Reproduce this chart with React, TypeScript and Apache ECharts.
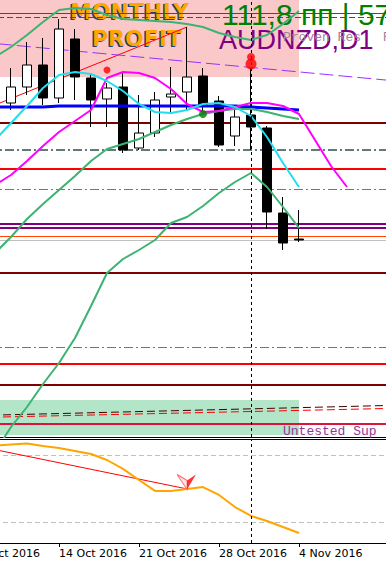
import React, { useEffect, useRef } from "react";
import * as echarts from "echarts";

// ---------- categories (trading days) ----------
const CATEGORIES = [
  "7 Oct 2016", "10 Oct 2016", "11 Oct 2016", "12 Oct 2016", "13 Oct 2016", "14 Oct 2016",
  "17 Oct 2016", "18 Oct 2016", "19 Oct 2016", "20 Oct 2016", "21 Oct 2016",
  "24 Oct 2016", "25 Oct 2016", "26 Oct 2016", "27 Oct 2016", "28 Oct 2016",
  "31 Oct 2016", "1 Nov 2016", "2 Nov 2016", "3 Nov 2016", "4 Nov 2016",
  "7 Nov 2016", "8 Nov 2016", "9 Nov 2016", "10 Nov 2016", "11 Nov 2016", "14 Nov 2016",
];
const LABELLED_DATES = ["7 Oct 2016", "14 Oct 2016", "21 Oct 2016", "28 Oct 2016", "4 Nov 2016"];

// ---------- OHLC (AUDNZD, D1) ----------
const OPEN = [null, 1.0650, 1.0697, 1.0713, 1.0735, 1.0702, 1.0761, 1.0722, 1.0701, 1.0713, 1.0652, 1.0667, 1.0703, 1.0708, 1.0724, 1.0699, 1.0664, 1.0685, 1.0672, 1.0587, 1.0561];
const CLOSE = [null, 1.0696, 1.0713, 1.0735, 1.0702, 1.0771, 1.0723, 1.0700, 1.0712, 1.0650, 1.0667, 1.0700, 1.0706, 1.0723, 1.0694, 1.0655, 1.0683, 1.0673, 1.0588, 1.0557, 1.0560];
const LOW = [null, 1.0648, 1.0690, 1.0705, 1.0695, 1.0697, 1.0700, 1.0673, 1.0673, 1.0647, 1.0650, 1.0663, 1.0688, 1.0690, 1.0688, 1.0653, 1.0654, 1.0650, 1.0571, 1.0550, 1.0558];
const HIGH = [null, 1.0702, 1.0732, 1.0758, 1.0762, 1.0781, 1.0771, 1.0726, 1.0717, 1.0728, 1.0705, 1.0708, 1.0733, 1.0773, 1.0732, 1.0704, 1.0693, 1.0732, 1.0674, 1.0603, 1.0590];

// ---------- indicator lines ----------
const UPPER_GREEN = [null, 1.0743, 1.0753, 1.0765, 1.0778, 1.0790, 1.0792, 1.0791, 1.0785, 1.0781, 1.0780, 1.0779, 1.0778, 1.0776, 1.0773, 1.0767, 1.0763, 1.0760, 1.0765, 1.0776, 1.0789];
const MID_GREEN = [null, 1.0547, 1.0563, 1.0581, 1.0596, 1.0610, 1.0624, 1.0639, 1.0651, 1.0656, 1.0661, 1.0668, 1.0675, 1.0681, 1.0686, 1.0689, 1.0691, 1.0691, 1.0688, 1.0684, 1.0681];
const LOWER_GREEN = [null, 1.0348, 1.0373, 1.0393, 1.0416, 1.0437, 1.0462, 1.0494, 1.0527, 1.0541, 1.0550, 1.0560, 1.0577, 1.0583, 1.0594, 1.0607, 1.0618, 1.0627, 1.0613, 1.0593, 1.0572];
const CYAN = [null, 1.0660, 1.0677, 1.0694, 1.0712, 1.0725, 1.0728, 1.0726, 1.0719, 1.0709, 1.0696, 1.0688, 1.0687, 1.0690, 1.0696, 1.0697, 1.0693, 1.0684, 1.0663, 1.0637, 1.0613];
const MAGENTA = [null, 1.0615, 1.0625, 1.0639, 1.0654, 1.0668, 1.0679, 1.0690, 1.0722, 1.0728, 1.0727, 1.0722, 1.0711, 1.0696, 1.0688, 1.0689, 1.0693, 1.0697, 1.0697, 1.0694, 1.0686, 1.0660, 1.0634, 1.0613];
const BLUE = [null, 1.0693, 1.0693, 1.0693, 1.0693, 1.0694, 1.0694, 1.0694, 1.0694, 1.0694, 1.0694, 1.0694, 1.0694, 1.0694, 1.0694, 1.0694, 1.0694, 1.0693, 1.0692, 1.0691, 1.0690];

// ---------- oscillator (sub window) ----------
const OSC = [null, 88.5, 89.4, 90.3, 88.1, 86.3, 83.6, 80.9, 75.5, 67.5, 57.6, 47.8, 47.8, 49.6, 51.3, 44.2, 33.4, 25.4, 20.9, 15.5, 10.2];
const OSC_LEVELS = [80, 20];
const OSC_TREND = [["7 Oct 2016", 87.7], ["26 Oct 2016", 49.6]];
const OSC_ARROW = ["26 Oct 2016", 49.6];

// ---------- horizontal levels ----------
const LEVEL_PRICES = [1.0787, 1.0783, 1.0677, 1.0650, 1.0631, 1.0611, 1.0576, 1.05727, 1.05633, 1.0560, 1.0527, 1.0453, 1.0436, 1.0415, 1.0376];
const LEVEL_COLORS = ["#FF0000", "#FF0000", "#800000", "#2F4F4F", "#FF0000", "#FF4500", "#800080", "#800080", "#FF4500", "#C0C0C0", "#800000", "#FF4500", "#FF0000", "#800000", "#DC143C"];
const LEVEL_WIDTHS = [1, 1, 2, 1.5, 2, 1, 2, 2, 1, 1, 2, 1, 2, 2, 2];
const LEVEL_STYLES = ["solid", "dash", "solid", "dashdot", "solid", "dashdot", "solid", "solid", "solid", "solid", "solid", "dashdot", "solid", "solid", "solid"];

// ---------- trend lines ----------
const RED_TREND = [["7 Oct 2016", 1.06885], ["26 Oct 2016", 1.0773]];
const VIOLET_TREND = [["7 Oct 2016", 1.0758], ["14 Nov 2016", 1.07191]];
const ZONE_TREND_DARK = [["7 Oct 2016", 1.03845], ["14 Nov 2016", 1.03947]];
const ZONE_TREND_RED = [["7 Oct 2016", 1.03825], ["14 Nov 2016", 1.03917]];

// ---------- zones ----------
const PINK_ZONE = [["7 Oct 2016", 1.0723], ["4 Nov 2016", 1.0800]];
const GREEN_ZONE = [["7 Oct 2016", 1.0365], ["4 Nov 2016", 1.0400]];

// ---------- markers ----------
const RED_DOTS = [["19 Oct 2016", 1.0730, 7], ["1 Nov 2016", 1.0743, 8], ["1 Nov 2016", 1.0736, 11]];
const GREEN_DOTS = [["27 Oct 2016", 1.0686, 8]];
const SEPARATOR_DATE = "1 Nov 2016";

const Y_MIN = 1.0363;
const Y_MAX = 1.08;
const OSC_MIN = 1.2;
const OSC_MAX = 94.3;

const pad = (arr: (number | null)[]) => CATEGORIES.map((_, i) => (i < arr.length ? arr[i] : null));

const dashType = (s: string): any =>
  s === "dash" ? [6, 3] : s === "dashdot" ? [9, 3, 2, 3] : "solid";

function buildOption(): any {
  const candles = CATEGORIES.map((_, i) =>
    OPEN[i] == null ? "-" : [OPEN[i], CLOSE[i], LOW[i], HIGH[i]]
  );

  const lineSeries = (name: string, data: (number | null)[], color: string, width: number) => ({
    name,
    type: "line",
    xAxisIndex: 0,
    yAxisIndex: 0,
    data: pad(data),
    showSymbol: false,
    symbol: "none",
    lineStyle: { color, width },
    z: 3,
    silent: true,
  });

  const levelLines = LEVEL_PRICES.map((p, i) => ({
    yAxis: p,
    lineStyle: { color: LEVEL_COLORS[i], width: LEVEL_WIDTHS[i], type: dashType(LEVEL_STYLES[i]) },
  }));
  const seg = (pts: any[], color: string, width: number, type: any) => [
    { coord: pts[0], lineStyle: { color, width, type } },
    { coord: pts[1], lineStyle: { color, width, type } },
  ];

  const labelFont = { fontFamily: "DejaVu Sans", fontSize: 11, color: "#000" };
  const TEXT_Z = 0.5;

  return {
    animation: false,
    backgroundColor: "#ffffff",
    grid: [
      { left: -29, width: 432, top: 0, height: 437, outerBoundsMode: "none", containLabel: false },
      { left: -29, width: 432, top: 439, height: 104, outerBoundsMode: "none", containLabel: false },
    ],
    xAxis: [
      {
        type: "category", gridIndex: 0, data: CATEGORIES, boundaryGap: true,
        axisLine: { show: true, lineStyle: { color: "#000", width: 1 } },
        axisTick: { show: false }, axisLabel: { show: false }, splitLine: { show: false },
      },
      {
        type: "category", gridIndex: 1, data: CATEGORIES, boundaryGap: true, position: "bottom",
        axisLine: { show: true, lineStyle: { color: "#000", width: 1 } },
        axisTick: {
          show: true, alignWithLabel: true, length: 4, lineStyle: { color: "#000" },
          interval: (_i: number, v: string) => LABELLED_DATES.includes(v),
        },
        axisLabel: {
          show: true, align: "left", margin: 5, hideOverlap: false, ...labelFont,
          interval: (_i: number, v: string) => LABELLED_DATES.includes(v),
        },
        splitLine: { show: false },
      },
      {
        type: "category", gridIndex: 1, data: CATEGORIES, boundaryGap: true, position: "top",
        axisLine: { show: true, lineStyle: { color: "#000", width: 1 } },
        axisTick: { show: false }, axisLabel: { show: false }, splitLine: { show: false },
      },
    ],
    yAxis: [
      { type: "value", gridIndex: 0, min: Y_MIN, max: Y_MAX, show: false, splitLine: { show: false } },
      { type: "value", gridIndex: 1, min: OSC_MIN, max: OSC_MAX, show: false, splitLine: { show: false } },
    ],
    graphic: [
      {
        type: "text", x: 222, y: 14.6, z: TEXT_Z, silent: true,
        style: { text: "111,8 пп | 57", fontFamily: "Liberation Sans", fontSize: 30, fill: "#008000", verticalAlign: "middle" },
      },
      {
        type: "text", x: 219, y: 39.6, z: TEXT_Z, silent: true,
        style: { text: "AUDNZD,D1", fontFamily: "Liberation Sans", fontSize: 27, fill: "#800080", verticalAlign: "middle" },
      },
      {
        type: "text", x: 283, y: 37.5, z: TEXT_Z, silent: true,
        style: { text: "Proven Res", fontFamily: "Liberation Mono", fontSize: 13, fill: "#A080A0", verticalAlign: "middle" },
      },
      {
        type: "text", x: 383, y: 37.5, z: TEXT_Z, silent: true,
        style: { text: "Res", fontFamily: "Liberation Mono", fontSize: 13, fill: "#A080A0", verticalAlign: "middle" },
      },
      {
        type: "text", x: 68.5, y: 12, z: TEXT_Z, silent: true,
        style: { text: "MONTHLY", fontFamily: "DejaVu Sans", fontWeight: "bold", fontSize: 22, fill: "#23407A", verticalAlign: "middle" },
      },
      {
        type: "text", x: 70, y: 11, z: TEXT_Z, silent: true,
        style: { text: "MONTHLY", fontFamily: "DejaVu Sans", fontWeight: "bold", fontSize: 22, fill: "#FFA500", verticalAlign: "middle" },
      },
      {
        type: "text", x: 90.5, y: 39, z: TEXT_Z, silent: true,
        style: { text: "PROFIT", fontFamily: "DejaVu Sans", fontWeight: "bold", fontSize: 22, fill: "#23407A", verticalAlign: "middle" },
      },
      {
        type: "text", x: 92, y: 38, z: TEXT_Z, silent: true,
        style: { text: "PROFIT", fontFamily: "DejaVu Sans", fontWeight: "bold", fontSize: 22, fill: "#FFA500", verticalAlign: "middle" },
      },
      {
        type: "text", x: 283, y: 431.5, z: TEXT_Z, silent: true,
        style: { text: "Untested Sup", fontFamily: "Liberation Mono", fontSize: 13, fill: "#993399", verticalAlign: "middle" },
      },
    ],
    series: [
      {
        name: "AUDNZD",
        type: "candlestick",
        xAxisIndex: 0,
        yAxisIndex: 0,
        data: candles,
        barWidth: 10,
        z: 2,
        silent: true,
        itemStyle: { color: "#ffffff", color0: "#000000", borderColor: "#000000", borderColor0: "#000000", borderWidth: 1 },
        markArea: {
          silent: true,
          z: 0,
          precision: 6,
          data: [
            [{ coord: PINK_ZONE[0], itemStyle: { color: "#FAC8C8" } }, { coord: PINK_ZONE[1] }],
            [{ coord: GREEN_ZONE[0], itemStyle: { color: "#B3E5C9" } }, { coord: GREEN_ZONE[1] }],
          ],
        },
      },
      {
        ...lineSeries("Blue MA", BLUE, "#0000FF", 3),
        markLine: {
          silent: true, z: 1, precision: 6, symbol: ["none", "none"], label: { show: false },
          data: [
            ...levelLines,
            seg(RED_TREND, "#FF0000", 1, "solid"),
            seg(VIOLET_TREND, "#9B30FF", 1, [14, 5]),
            seg(ZONE_TREND_DARK, "#400000", 1, [8, 4]),
            seg(ZONE_TREND_RED, "#FF0000", 1, [8, 4]),
          ],
        },
      },
      lineSeries("Upper band", UPPER_GREEN, "#3CB371", 2),
      lineSeries("Middle", MID_GREEN, "#3CB371", 2),
      lineSeries("Lower band", LOWER_GREEN, "#3CB371", 2),
      lineSeries("Magenta MA", MAGENTA, "#FF00FF", 2),
      {
        ...lineSeries("Cyan MA", CYAN, "#22DDEE", 2),
        markLine: {
          silent: true, z: 6, symbol: ["none", "none"], label: { show: false },
          data: [{ xAxis: SEPARATOR_DATE, lineStyle: { color: "#000", width: 1, type: [3, 3] } }],
        },
      },
      {
        name: "Fractals up",
        type: "scatter",
        xAxisIndex: 0, yAxisIndex: 0, z: 7, silent: true,
        data: RED_DOTS.map((d) => ({ value: [d[0], d[1]], symbolSize: d[2] })),
        itemStyle: { color: "#FF0000" },
      },
      {
        name: "Signal",
        type: "scatter",
        xAxisIndex: 0, yAxisIndex: 0, z: 7, silent: true,
        data: GREEN_DOTS.map((d) => ({ value: [d[0], d[1]], symbolSize: d[2] })),
        itemStyle: { color: "#008000" },
      },
      {
        name: "Oscillator",
        type: "line",
        xAxisIndex: 1, yAxisIndex: 1,
        data: pad(OSC),
        showSymbol: false, symbol: "none", silent: true, z: 3,
        lineStyle: { color: "#FFA500", width: 2 },
        markLine: {
          silent: true, z: 1, precision: 4, symbol: ["none", "none"], label: { show: false },
          data: [
            ...OSC_LEVELS.map((v) => ({ yAxis: v, lineStyle: { color: "#C0C0C0", width: 1, type: [5, 3] } })),
            seg(OSC_TREND, "#FF0000", 1, "solid"),
          ],
        },
      },
      {
        name: "Arrow left",
        type: "scatter",
        xAxisIndex: 1, yAxisIndex: 1, z: 7, silent: true,
        symbol: "path://M0,0 L11,6 L11,15 Z",
        symbolSize: [10, 15],
        symbolOffset: [-5, -7],
        itemStyle: { color: "#FFE0E0", borderColor: "#FF5050", borderWidth: 1 },
        data: [OSC_ARROW],
      },
      {
        name: "Arrow right",
        type: "scatter",
        xAxisIndex: 1, yAxisIndex: 1, z: 7, silent: true,
        symbol: "path://M11,6 L20,0 L11,15 Z",
        symbolSize: [9, 15],
        symbolOffset: [4.5, -7],
        itemStyle: { color: "#FF0000" },
        data: [OSC_ARROW],
        markLine: {
          silent: true, z: 6, symbol: ["none", "none"], label: { show: false },
          data: [{ xAxis: SEPARATOR_DATE, lineStyle: { color: "#000", width: 1, type: [3, 3] } }],
        },
      },
    ],
  };
}

export default function App() {
  const ref = useRef<HTMLDivElement>(null);
  useEffect(() => {
    document.body.style.margin = "0";
    const chart = echarts.init(ref.current as HTMLDivElement, null, { renderer: "svg" });
    chart.setOption(buildOption());
    return () => chart.dispose();
  }, []);
  return (
    <div
      ref={ref}
      style={{ width: 386, height: 562, position: "absolute", left: 0, top: 0, background: "#fff" }}
    />
  );
}
